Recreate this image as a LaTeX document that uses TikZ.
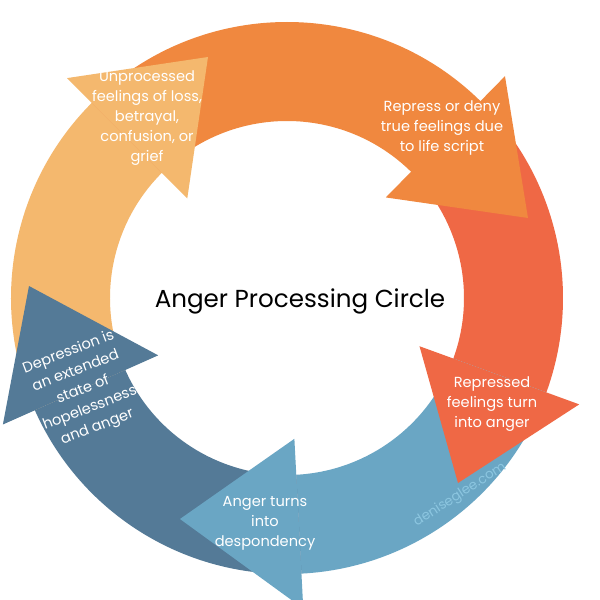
\documentclass[tikz,border=0pt]{standalone}
\usepackage{fontspec}
\setmainfont{Poppins}
\definecolor{cpeach}{HTML}{F4B86E}
\definecolor{corange}{HTML}{F0883F}
\definecolor{cred}{HTML}{EF6845}
\definecolor{clblue}{HTML}{6AA6C4}
\definecolor{cdblue}{HTML}{547A97}
\definecolor{cwater}{HTML}{8CC6E0}
\newcommand\bandseg[3]{\fill[#1] (#2:276) arc[start angle=#2,end angle=#3,radius=276] -- (#3:177) arc[start angle=#3,end angle=#2,radius=177] -- cycle;}
\tikzset{
  lbl/.style={text=white,align=center,inner sep=0pt,font=\fontsize{7.3}{10}\selectfont},
  title/.style={text=black,inner sep=0pt,font=\fontsize{12.3}{14}\selectfont},
  wmark/.style={text=cwater,inner sep=0pt,font=\fontsize{6.7}{8}\selectfont}
}
\begin{document}
\begin{tikzpicture}[x=0.5pt,y=0.5pt]
\useasboundingbox[fill=white] (-287,-302) rectangle (313,298);
% ring bands
\bandseg{cpeach}{204}{135}
\bandseg{corange}{135}{45}
\bandseg{cred}{45}{-20}
\bandseg{clblue}{-20}{-87}
\bandseg{cdblue}{-87}{-156}
% arrow heads
\fill[cpeach] (135:311) -- (-79,241) -- (135:141) -- cycle;
\fill[corange] (45.5:311) -- (241,80) -- (45.5:141) -- cycle;
\fill[cred] (-20:311) -- (171,-185) -- (-20:141) -- cycle;
\fill[clblue] (-87:311) -- (-107,-221) -- (-87:141) -- cycle;
\fill[cdblue] (204:311) -- (-258,12) -- (204:141) -- cycle;
% labels
\node[lbl] (t1) at (-140,180) {Unprocessed\\feelings of loss,\\betrayal,\\confusion, or\\grief};
\node[lbl] (t2) at (155,170) {Repress or deny\\true feelings due\\to life script};
\node[lbl] (t3) at (205,-106) {Repressed\\feelings turn\\into anger};
\node[lbl] (t4) at (-22,-225) {Anger turns\\into\\despondency};
\node[lbl,rotate=21] (t5) at (-204,-92) {Depression is\\an extended\\state of\\hopelessness\\and anger};
\node[title,anchor=base] (title) at (13,-10) {Anger Processing Circle};
\node[wmark,rotate=33] (wm) at (173,-197) {deniseglee.com};
\end{tikzpicture}
\end{document}
